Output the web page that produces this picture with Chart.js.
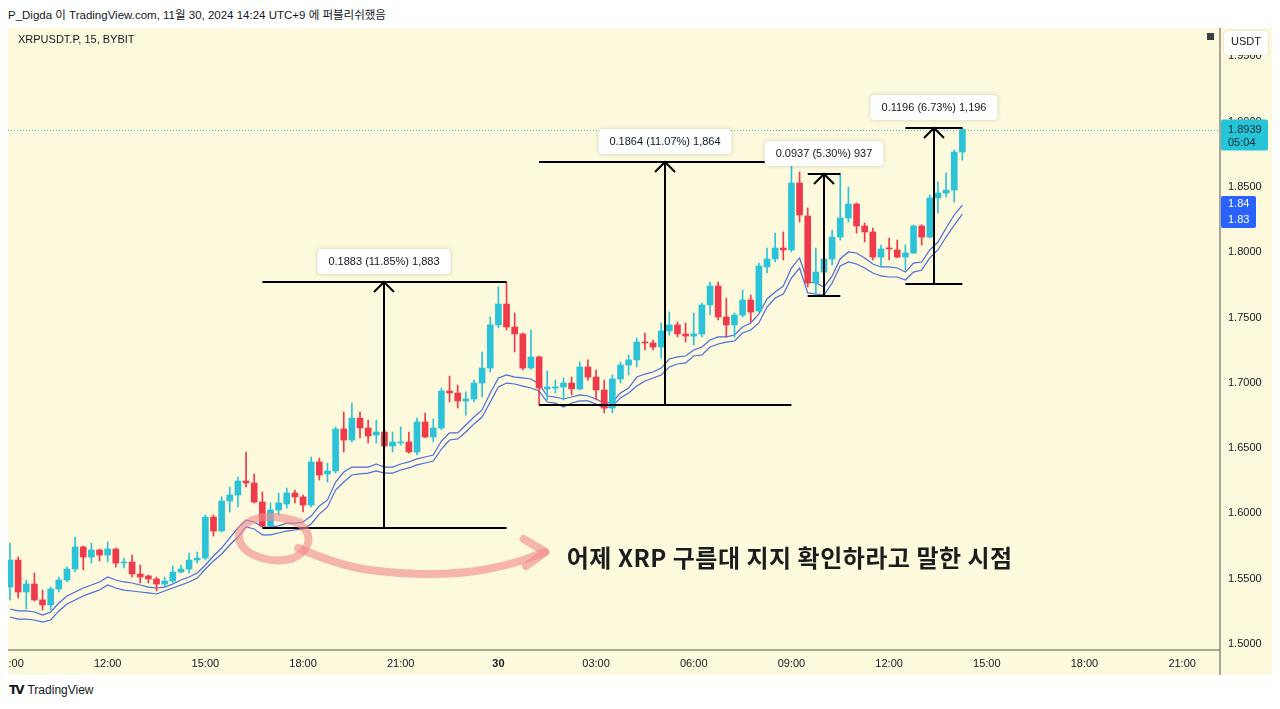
<!DOCTYPE html>
<html>
<head>
<meta charset="utf-8">
<script src="https://cdn.jsdelivr.net/npm/chart.js@4.4.1/dist/chart.umd.min.js"></script>
<style>
  html, body { margin: 0; padding: 0; background: #fff; width: 1280px; height: 709px; overflow: hidden; }
  body { font-family: 'Liberation Sans', 'Noto Sans CJK KR', sans-serif; color: #131722; }
  #head { position: absolute; left: 8px; top: 6px; font-size: 11.5px; }
  #wrap { position: absolute; left: 8px; top: 28px; width: 1264px; height: 647px; }
  #foot { position: absolute; left: 9px; top: 683px; font-size: 12px; }
  #foot b { font-family: 'DejaVu Sans', sans-serif; font-size: 12px; letter-spacing: -2px; margin-right: 5px; }
</style>
</head>
<body>
<div id="head">P_Digda 이 TradingView.com, 11월 30, 2024 14:24 UTC+9 에 퍼블리쉬했음</div>
<div id="wrap"><canvas id="chart" width="1264" height="647"></canvas></div>
<div id="foot"><b>TV</b>TradingView</div>
<script>
// 15m candles, XRPUSDT.P, from 29th 09:00 to 30th 14:15
const openP = [1.5436,1.5643,1.5398,1.5459,1.5337,1.5299,1.5421,1.5490,1.5574,1.5743,
  1.5666,1.5720,1.5681,1.5727,1.5620,1.5628,1.5536,1.5521,1.5498,1.5459,
  1.5482,1.5551,1.5574,1.5643,1.5658,1.5972,1.5865,1.6095,1.6141,1.6248,
  1.6233,1.6087,1.5904,1.6026,1.6072,1.6156,1.6126,1.6064,1.6394,1.6302,
  1.6325,1.6646,1.6562,1.6730,1.6654,1.6600,1.6623,1.6516,1.6539,1.6547,
  1.6470,1.6700,1.6585,1.6654,1.6937,1.6922,1.6861,1.6876,1.6998,1.7113,
  1.7443,1.7603,1.7427,1.7374,1.7113,1.7198,1.6953,1.6960,1.6968,1.6998,
  1.6953,1.7121,1.7044,1.6945,1.6807,1.7029,1.7136,1.7175,1.7312,1.7305,
  1.7274,1.7397,1.7443,1.7374,1.7358,1.7374,1.7596,1.7741,1.7504,1.7443,
  1.7519,1.7634,1.7550,1.7887,1.7948,1.8032,1.8017,1.8530,1.8277,1.7764,
  1.7848,1.7948,1.8116,1.8262,1.8369,1.8201,1.8155,1.7963,1.8032,1.8017,
  1.7963,1.7994,1.8201,1.8116,1.8415,1.8453,1.8476,1.8767];
const highP = [1.5773,1.5666,1.5490,1.5544,1.5413,1.5436,1.5513,1.5590,1.5819,1.5750,
  1.5773,1.5727,1.5781,1.5735,1.5658,1.5681,1.5605,1.5528,1.5513,1.5513,
  1.5597,1.5605,1.5697,1.5704,1.5988,1.5988,1.6126,1.6202,1.6279,1.6470,
  1.6302,1.6164,1.6080,1.6156,1.6194,1.6179,1.6141,1.6432,1.6424,1.6386,
  1.6662,1.6776,1.6845,1.6776,1.6715,1.6715,1.6639,1.6623,1.6662,1.6623,
  1.6730,1.6769,1.6723,1.6960,1.7052,1.6983,1.6930,1.7021,1.7236,1.7504,
  1.7734,1.7772,1.7534,1.7381,1.7404,1.7205,1.7090,1.7021,1.7037,1.7044,
  1.7159,1.7175,1.7098,1.7021,1.7060,1.7159,1.7213,1.7343,1.7381,1.7328,
  1.7458,1.7542,1.7466,1.7458,1.7534,1.7611,1.7772,1.7772,1.7649,1.7534,
  1.7711,1.7672,1.7917,1.8032,1.8147,1.8155,1.8668,1.8614,1.8338,1.8032,
  1.7956,1.8170,1.8606,1.8499,1.8376,1.8224,1.8185,1.8055,1.8109,1.8093,
  1.8055,1.8208,1.8210,1.8438,1.8538,1.8606,1.8783,1.8951];
const lowP = [1.5337,1.5352,1.5268,1.5330,1.5260,1.5260,1.5398,1.5475,1.5551,1.5567,
  1.5620,1.5636,1.5628,1.5590,1.5582,1.5513,1.5467,1.5467,1.5406,1.5436,
  1.5467,1.5544,1.5544,1.5620,1.5643,1.5827,1.5858,1.6011,1.6049,1.6202,
  1.6080,1.5896,1.5896,1.5988,1.6041,1.6080,1.6011,1.6049,1.6256,1.6240,
  1.6309,1.6470,1.6547,1.6577,1.6539,1.6539,1.6501,1.6470,1.6524,1.6462,
  1.6447,1.6580,1.6547,1.6639,1.6853,1.6807,1.6753,1.6853,1.6891,1.7083,
  1.7420,1.7404,1.7236,1.7098,1.7105,1.6830,1.6868,1.6922,1.6868,1.6907,
  1.6945,1.7021,1.6868,1.6769,1.6769,1.6998,1.7060,1.7121,1.7251,1.7251,
  1.7190,1.7366,1.7351,1.7312,1.7289,1.7351,1.7519,1.7481,1.7351,1.7351,
  1.7504,1.7466,1.7542,1.7841,1.7925,1.7940,1.8002,1.8231,1.7734,1.7672,
  1.7825,1.7902,1.8093,1.8231,1.8147,1.8078,1.7940,1.7887,1.7940,1.7956,
  1.7864,1.7990,1.8055,1.8109,1.8300,1.8423,1.8384,1.8706];
const closeP = [1.5643,1.5398,1.5459,1.5337,1.5299,1.5421,1.5490,1.5574,1.5743,1.5666,
  1.5720,1.5681,1.5727,1.5620,1.5628,1.5536,1.5513,1.5498,1.5459,1.5482,
  1.5551,1.5574,1.5643,1.5658,1.5972,1.5865,1.6095,1.6141,1.6248,1.6233,
  1.6087,1.5904,1.6026,1.6080,1.6156,1.6126,1.6064,1.6394,1.6294,1.6325,
  1.6646,1.6562,1.6730,1.6654,1.6593,1.6623,1.6516,1.6547,1.6547,1.6470,
  1.6700,1.6585,1.6654,1.6937,1.6922,1.6861,1.6876,1.6998,1.7113,1.7443,
  1.7603,1.7427,1.7374,1.7113,1.7198,1.6960,1.6968,1.6968,1.6998,1.6953,
  1.7121,1.7044,1.6945,1.6807,1.7029,1.7136,1.7175,1.7312,1.7305,1.7274,
  1.7397,1.7443,1.7374,1.7358,1.7374,1.7596,1.7741,1.7504,1.7443,1.7519,
  1.7634,1.7542,1.7894,1.7948,1.8032,1.8017,1.8530,1.8285,1.7764,1.7848,
  1.7948,1.8116,1.8262,1.8369,1.8201,1.8155,1.7963,1.8025,1.8025,1.7963,
  1.7994,1.8201,1.8116,1.8415,1.8453,1.8476,1.8767,1.8939];

// the two blue band lines under the candles
const bandUpper = [1.5268,1.5253,1.5253,1.5245,1.5222,1.5245,1.5314,1.5368,1.5398,1.5429,
  1.5452,1.5475,1.5513,1.5490,1.5475,1.5467,1.5452,1.5436,1.5429,1.5436,
  1.5459,1.5490,1.5513,1.5544,1.5605,1.5674,1.5735,1.5812,1.5888,1.5949,
  1.5934,1.5896,1.5896,1.5904,1.5926,1.5926,1.5934,1.5980,1.6057,1.6103,
  1.6240,1.6317,1.6355,1.6355,1.6355,1.6378,1.6355,1.6355,1.6378,1.6394,
  1.6417,1.6432,1.6447,1.6554,1.6616,1.6616,1.6677,1.6738,1.6792,1.6922,
  1.7037,1.7060,1.7044,1.7037,1.7029,1.6991,1.6899,1.6891,1.6876,1.6891,
  1.6907,1.6899,1.6876,1.6845,1.6853,1.6922,1.6960,1.7044,1.7067,1.7083,
  1.7113,1.7182,1.7198,1.7205,1.7251,1.7274,1.7328,1.7351,1.7351,1.7366,
  1.7427,1.7458,1.7527,1.7642,1.7695,1.7741,1.7879,1.7956,1.7772,1.7764,
  1.7734,1.7818,1.7950,1.8002,1.7994,1.7956,1.7910,1.7887,1.7887,1.7879,
  1.7848,1.7917,1.7925,1.8017,1.8078,1.8185,1.8285,1.8361];
const bandLower = [1.5207,1.5191,1.5191,1.5184,1.5168,1.5184,1.5253,1.5306,1.5337,1.5368,
  1.5391,1.5413,1.5452,1.5429,1.5413,1.5406,1.5398,1.5391,1.5383,1.5406,
  1.5429,1.5452,1.5475,1.5505,1.5574,1.5636,1.5689,1.5758,1.5819,1.5896,
  1.5881,1.5835,1.5835,1.5850,1.5865,1.5873,1.5881,1.5919,1.5995,1.6049,
  1.6179,1.6240,1.6294,1.6302,1.6309,1.6325,1.6309,1.6309,1.6332,1.6348,
  1.6371,1.6386,1.6401,1.6493,1.6562,1.6570,1.6623,1.6685,1.6738,1.6853,
  1.6968,1.6998,1.6991,1.6975,1.6960,1.6937,1.6853,1.6845,1.6815,1.6845,
  1.6861,1.6861,1.6838,1.6807,1.6822,1.6884,1.6922,1.6975,1.7014,1.7037,
  1.7060,1.7121,1.7144,1.7152,1.7205,1.7213,1.7274,1.7297,1.7312,1.7320,
  1.7381,1.7404,1.7458,1.7580,1.7649,1.7680,1.7802,1.7879,1.7688,1.7680,
  1.7672,1.7764,1.7894,1.7925,1.7910,1.7879,1.7841,1.7818,1.7810,1.7810,
  1.7787,1.7848,1.7864,1.7956,1.8017,1.8116,1.8208,1.8292];

// axis labels
const timeLabels = ['09:00','12:00','15:00','18:00','21:00','30','03:00','06:00','09:00','12:00','15:00','18:00','21:00'];
const tickEvery = 12; // 12 x 15m = 3h
const priceTicks = [1.50,1.55,1.60,1.65,1.70,1.75,1.80,1.85,1.90,1.95];

// price range measurements drawn on the chart
const measureFrom = [31, 65, 98, 110];
const measureTo = [61, 96, 102, 117];
const measureLow = [1.5888, 1.6830, 1.7665, 1.7757];
const measureHigh = [1.7771, 1.8694, 1.8602, 1.8953];
const measureText = ['0.1883 (11.85%) 1,883', '0.1864 (11.07%) 1,864', '0.0937 (5.30%) 937', '0.1196 (6.73%) 1,196'];

// pink hand drawn mark (candle index, price)
const loopIdx = [35.6, 32.2, 28.9, 27.8, 29.2, 32.6, 35.6, 37.0, 35.9, 34.0];
const loopPrice = [1.5934, 1.5995, 1.5934, 1.5819, 1.5689, 1.5628, 1.5666, 1.5796, 1.5919, 1.5950];
const tailIdx = [35.4, 40.5, 47.9, 55.3, 61.4, 65.7];
const tailPrice = [1.5735, 1.5597, 1.5536, 1.5536, 1.5605, 1.5704];
const headIdx = [63.1, 65.8, 63.4];
const headPrice = [1.5804, 1.5704, 1.5597];
const noteText = '어제 XRP 구름대 지지 확인하라고 말한 시점';
const noteIdx = 68.4, notePrice = 1.5658;

const upColor = '#2cc3d9';
const downColor = '#ef3a4c';
const bandColor = '#4a6bdc';

const idx = openP.map((_, i) => i);
const candleColors = idx.map(i => closeP[i] >= openP[i] ? upColor : downColor);

function smoothPath(c, pts) {
  c.moveTo(pts[0][0], pts[0][1]);
  for (let i = 1; i < pts.length - 1; i++) {
    const mx = (pts[i][0] + pts[i + 1][0]) / 2, my = (pts[i][1] + pts[i + 1][1]) / 2;
    c.quadraticCurveTo(pts[i][0], pts[i][1], mx, my);
  }
  const l = pts[pts.length - 1];
  c.lineTo(l[0], l[1]);
}

function roundBox(c, x, y, w, h, r) {
  c.beginPath();
  c.moveTo(x + r, y);
  c.arcTo(x + w, y, x + w, y + h, r);
  c.arcTo(x + w, y + h, x, y + h, r);
  c.arcTo(x, y + h, x, y, r);
  c.arcTo(x, y, x + w, y, r);
  c.closePath();
}

const overlay = {
  id: 'overlay',
  beforeDraw(chart) {
    const c = chart.ctx;
    c.save();
    c.fillStyle = '#fdf9dc';
    c.fillRect(0, 0, chart.width, chart.height);
    c.restore();
  },
  afterDatasetsDraw(chart) {
    const c = chart.ctx, a = chart.chartArea, x = chart.scales.x, y = chart.scales.y;
    const last = closeP.length - 1;
    c.save();
    c.beginPath();
    c.rect(a.left, a.top, a.right - a.left, a.bottom - a.top);
    c.clip();

    // last price dotted line
    const ly = Math.round(y.getPixelForValue(closeP[last])) + 0.5;
    c.strokeStyle = upColor;
    c.lineWidth = 1;
    c.setLineDash([1, 2]);
    c.beginPath(); c.moveTo(a.left, ly); c.lineTo(a.right, ly); c.stroke();
    c.setLineDash([]);

    // measurements
    c.strokeStyle = '#000';
    c.lineWidth = 2;
    c.font = '11px "Liberation Sans"';
    measureFrom.forEach((f, k) => {
      const x0 = x.getPixelForValue(f), x1 = x.getPixelForValue(measureTo[k]);
      const xm = Math.round(x.getPixelForValue((f + measureTo[k]) / 2));
      const yt = Math.round(y.getPixelForValue(measureHigh[k]));
      const yb = Math.round(y.getPixelForValue(measureLow[k]));
      c.beginPath();
      c.moveTo(x0, yt); c.lineTo(x1, yt);
      c.moveTo(x0, yb); c.lineTo(x1, yb);
      c.moveTo(xm, yb); c.lineTo(xm, yt);
      c.moveTo(xm - 10, yt + 10); c.lineTo(xm, yt); c.lineTo(xm + 10, yt + 10);
      c.stroke();
      const tw = c.measureText(measureText[k]).width + 22;
      c.save();
      c.shadowColor = 'rgba(0,0,0,0.18)';
      c.shadowBlur = 4;
      c.fillStyle = '#fff';
      roundBox(c, xm - tw / 2, yt - 33, tw, 25, 4);
      c.fill();
      c.restore();
      c.fillStyle = '#131722';
      c.textAlign = 'center';
      c.textBaseline = 'middle';
      c.fillText(measureText[k], xm, yt - 20);
    });

    // pink hand drawing
    const toPts = (xs, ys) => xs.map((v, k) => [x.getPixelForValue(v), y.getPixelForValue(ys[k])]);
    c.strokeStyle = 'rgba(240,138,138,0.62)';
    c.lineWidth = 8;
    c.lineCap = 'round';
    c.lineJoin = 'round';
    c.beginPath(); smoothPath(c, toPts(loopIdx, loopPrice)); c.stroke();
    c.beginPath(); smoothPath(c, toPts(tailIdx, tailPrice)); c.stroke();
    const hp = toPts(headIdx, headPrice);
    c.beginPath(); c.moveTo(hp[0][0], hp[0][1]); c.lineTo(hp[1][0], hp[1][1]); c.lineTo(hp[2][0], hp[2][1]); c.stroke();

    c.fillStyle = '#1c1c1c';
    c.font = 'bold 24px "Noto Sans CJK KR"';
    c.letterSpacing = '0.5px';
    c.textAlign = 'left';
    c.textBaseline = 'middle';
    c.fillText(noteText, x.getPixelForValue(noteIdx), y.getPixelForValue(notePrice));
    c.letterSpacing = '0px';
    c.restore();

    // pane separators
    c.save();
    c.strokeStyle = '#8d8b7e';
    c.lineWidth = 1.5;
    c.beginPath();
    c.moveTo(a.right, 0); c.lineTo(a.right, chart.height);
    c.moveTo(0, a.bottom); c.lineTo(a.right, a.bottom);
    c.stroke();

    // symbol legend + small square
    c.fillStyle = '#131722';
    c.font = '11px "Liberation Sans"';
    c.textAlign = 'left';
    c.textBaseline = 'middle';
    c.fillText('XRPUSDT.P, 15, BYBIT', 10, 12);
    c.fillStyle = '#3b3f48';
    c.fillRect(a.right - 13, 5, 7, 7);

    // USDT box
    c.save();
    c.shadowColor = 'rgba(0,0,0,0.15)';
    c.shadowBlur = 3;
    c.fillStyle = '#fff';
    roundBox(c, a.right + 4, 3, 44, 24, 4);
    c.fill();
    c.restore();
    c.fillStyle = '#131722';
    c.textAlign = 'center';
    c.fillText('USDT', a.right + 26, 14);

    // last price tag
    const py = y.getPixelForValue(closeP[last]);
    c.fillStyle = '#26c4d8';
    roundBox(c, a.right + 1, py - 10, 47, 31, 2);
    c.fill();
    c.fillStyle = '#0e2a30';
    c.textAlign = 'left';
    c.fillText(closeP[last].toFixed(4), a.right + 8, py);
    c.fillText('05:04', a.right + 8, py + 13);

    // band value tags
    const by = y.getPixelForValue(bandUpper[last]);
    c.fillStyle = '#2962ff';
    roundBox(c, a.right + 1, by - 9, 35, 32, 2);
    c.fill();
    c.fillStyle = '#fff';
    c.fillText(bandUpper[last].toFixed(2), a.right + 8, by - 1);
    c.fillText(bandLower[last].toFixed(2), a.right + 8, by + 15);
    c.restore();
  }
};

const ctx = document.getElementById('chart').getContext('2d');

new Chart(ctx, {
  type: 'bar',
  data: {
    datasets: [
      { type: 'line', data: idx.map(i => ({ x: i, y: bandUpper[i] })), borderColor: bandColor, borderWidth: 1.2, pointRadius: 0, tension: 0, order: 3 },
      { type: 'line', data: idx.map(i => ({ x: i, y: bandLower[i] })), borderColor: bandColor, borderWidth: 1.2, pointRadius: 0, tension: 0, order: 3 },
      { data: idx.map(i => ({ x: i, y: [lowP[i], highP[i]] })), backgroundColor: candleColors, barThickness: 1, grouped: false, order: 2 },
      { data: idx.map(i => ({ x: i, y: [openP[i], closeP[i]] })), backgroundColor: candleColors, barThickness: 6, minBarLength: 1, grouped: false, order: 1 }
    ]
  },
  options: {
    responsive: false,
    animation: false,
    devicePixelRatio: 1,
    layout: { padding: 0 },
    plugins: { legend: { display: false }, tooltip: { enabled: false } },
    scales: {
      x: {
        type: 'linear',
        min: -0.2457,
        max: 148.65,
        offset: false,
        grid: { display: false, drawTicks: false },
        border: { display: false },
        afterBuildTicks: s => { s.ticks = timeLabels.map((_, k) => ({ value: k * tickEvery })); },
        afterFit: s => { s.height = 25; s.paddingLeft = 0; s.paddingRight = 0; },
        ticks: {
          padding: 7,
          maxRotation: 0,
          autoSkip: false,
          color: '#131722',
          font: c => ({ family: 'Liberation Sans', size: 11, weight: c.index === 5 ? 'bold' : 'normal' }),
          callback: v => timeLabels[Math.round(v / tickEvery)]
        }
      },
      y: {
        position: 'right',
        min: 1.495406,
        max: 1.971666,
        grid: { display: false, drawTicks: false },
        border: { display: false },
        afterBuildTicks: s => { s.ticks = priceTicks.map(v => ({ value: v })); },
        afterFit: s => { s.width = 52; s.paddingTop = 0; s.paddingBottom = 0; },
        ticks: {
          padding: 8,
          crossAlign: 'near',
          color: '#131722',
          font: { family: 'Liberation Sans', size: 11 },
          callback: v => v.toFixed(4)
        }
      }
    }
  },
  plugins: [overlay]
});
</script>
</body>
</html>
